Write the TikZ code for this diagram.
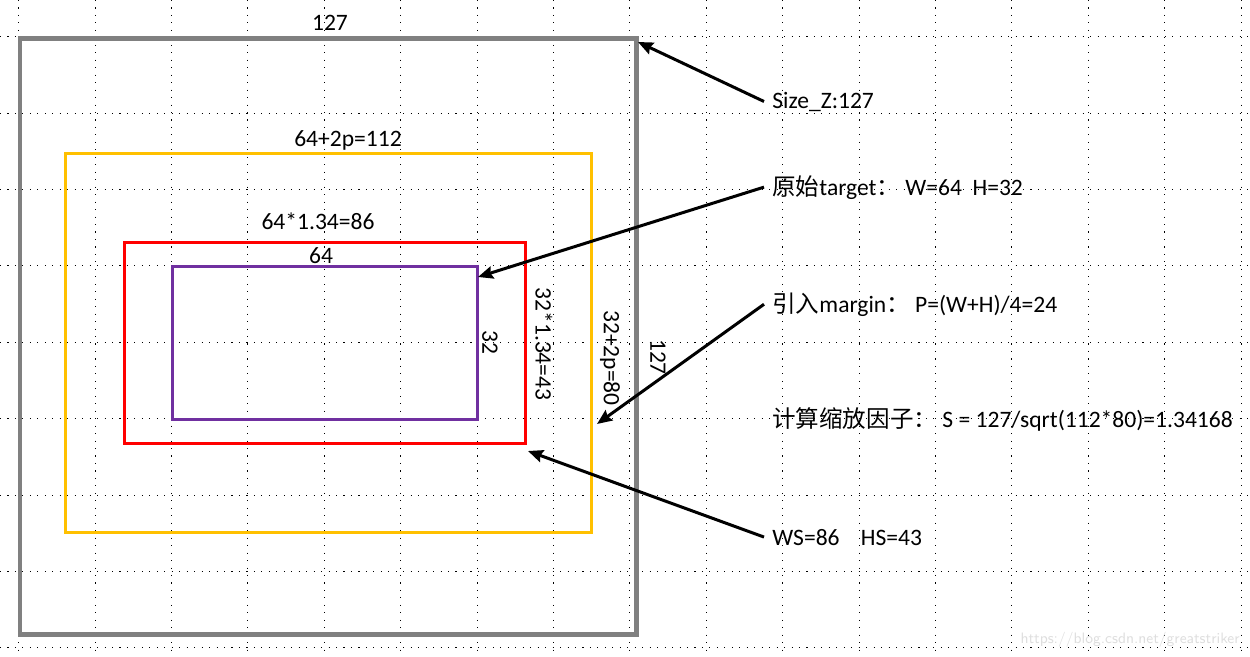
\documentclass[tikz,border=0pt]{standalone}
\usepackage{fontspec}
\setmainfont{Carlito}
\newfontfamily\cjk{Noto Sans CJK SC}
\usetikzlibrary{arrows.meta}

\definecolor{boxgray}{RGB}{128,128,128}
\definecolor{boxyellow}{RGB}{255,192,0}
\definecolor{boxred}{RGB}{255,0,0}
\definecolor{boxpurple}{RGB}{112,48,160}
\definecolor{markgray}{RGB}{222,222,222}

\tikzset{
  griddots/.style={line width=0.62pt, dash pattern=on 0.62pt off 3.63pt},
  boxlabel/.style={inner sep=0pt, anchor=base},
  sidelabel/.style={inner xsep=0.16cm, inner ysep=0pt, anchor=base west},
  upright/.style={inner sep=0pt, rotate=-90},
  pointer/.style={line width=0.06cm, -{Stealth[length=0.3cm,width=0.25cm,inset=0.04cm]}},
}

\begin{document}
\begin{tikzpicture}[x=0.02cm, y=-0.02cm, font=\fontsize{13.4}{16}\selectfont]
            \useasboundingbox (0,0) rectangle (1250,656);
            
            % Dotted grid behind everything
            \foreach \k in {0,...,16}
              \draw [griddots] (18.7+76.4*\k,0) -- (18.7+76.4*\k,656);%
            \foreach \k in {0,...,8}
              \draw [griddots] (0,36.7+76.4*\k) -- (1250,36.7+76.4*\k);%
            
            % Drawing box Size_Z
            \draw [boxgray, line width=0.1cm] (20,38) rectangle (636,634);%
            \node [boxlabel] (topsize) at (330,30) {127};%
            \node [upright] (sidesize) at (658,357) {127};%
            
            % Drawing box with margin
            \draw [boxyellow, line width=0.06cm] (65,153) rectangle (591,532);%
            \node [boxlabel] (topmargin) at (348,146) {64+2p=112};%
            \node [upright] (sidemargin) at (610,358) {32+2p=80};%
            
            % Drawing scaled box
            \draw [boxred, line width=0.06cm] (124,242) rectangle (525,443);%
            \node [boxlabel] (topscaled) at (318,229) {64*1.34=86};%
            \node [upright] (sidescaled) at (544,344) {32*1.34=43};%
            
            % Drawing original target
            \draw [boxpurple, line width=0.06cm] (172,266) rectangle (477,419);%
            \node [boxlabel] (toptarget) at (321,263) {64};%
            \node [upright] (sidetarget) at (490,342) {32};%
            
            % Marking arrow ends on the boxes
            \coordinate (tipsize) at (638,42);%
            \coordinate (tiptarget) at (478,277);%
            \coordinate (tipmargin) at (597,424);%
            \coordinate (tipscaled) at (528,451);%
            
            % Notes on the right
            \node [sidelabel] (sizez) at (764,108) {Size\_Z:127};%
            \node [sidelabel] (target) at (764,195) {{\cjk 原始}target{\cjk ：}\ W=64\ \ H=32};%
            \node [sidelabel] (margin) at (764,312) {{\cjk 引入}margin{\cjk ：}\ P=(W+H)/4=24};%
            \node [sidelabel] (factor) at (764,427) {{\cjk 计算缩放因子：}\ S = 127/sqrt(112*80)=1.34168};%
            \node [sidelabel] (wshs) at (764,545) {WS=86\ \ \ \ HS=43};%
            
            % Drawing arrows from notes to boxes
            \draw [pointer] (sizez.west) -- (tipsize);%
            \draw [pointer] (target.west) -- (tiptarget);%
            \draw [pointer] (margin.west) -- (tipmargin);%
            \draw [pointer] (wshs.west) -- (tipscaled);%
            
            % Watermark
            \node [inner sep=0pt, anchor=base east, text=markgray, font=\fontsize{8.6}{10}\selectfont\sffamily] (watermark) at (1240,643) {https://blog.csdn.net/greatstriker};%
\end{tikzpicture}
\end{document}
